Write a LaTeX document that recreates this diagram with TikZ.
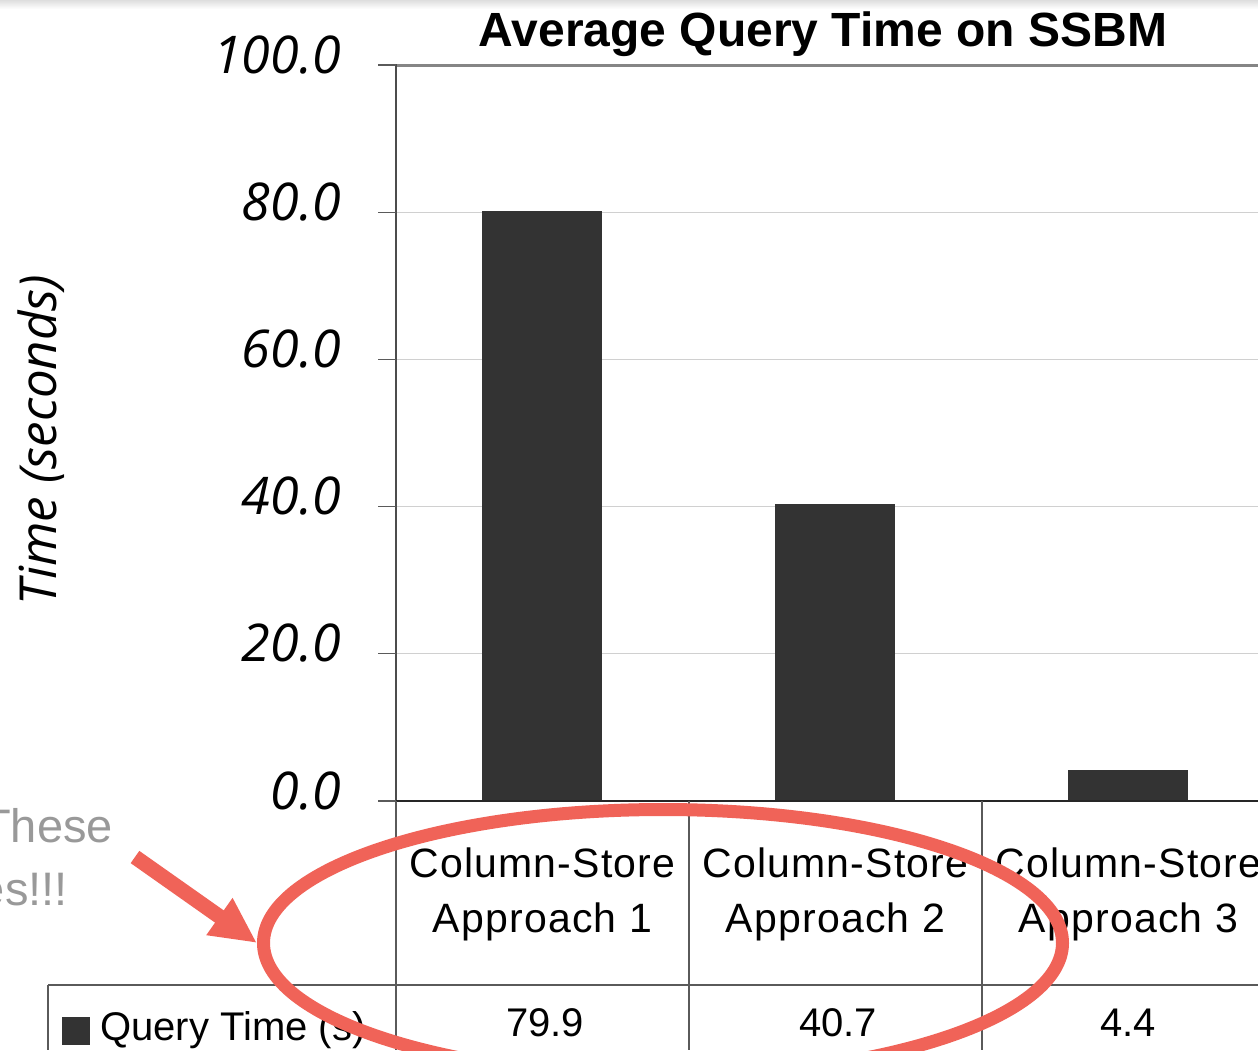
\documentclass[tikz,border=0pt]{standalone}
\usepackage{fontspec}
\setmainfont{Liberation Sans}
\newfontfamily\axisfont{Open Sans}
\newfontfamily\catfont{Liberation Sans}[LetterSpace=3]
\usetikzlibrary{shapes.geometric,arrows.meta}

\definecolor{barfill}{HTML}{333333}
\definecolor{markred}{HTML}{F06358}
\definecolor{softgray}{HTML}{999999}
\definecolor{gridgray}{HTML}{D0D0D0}
\definecolor{rulegray}{HTML}{5A5A5A}

\tikzset{
  ticklabel/.style={anchor=base east, inner sep=0pt, font=\axisfont\itshape\fontsize{52}{60}\selectfont},
  catlabel/.style={anchor=base, inner sep=0pt, font=\catfont\fontsize{41}{48}\selectfont},
  vallabel/.style={anchor=base, inner sep=0pt, font=\fontsize{40}{48}\selectfont},
  bar/.style={fill=barfill},
  gridline/.style={draw=gridgray, line width=1pt},
  tablerule/.style={draw=rulegray, line width=1.3pt},
  tickmark/.style={draw=rulegray, line width=1.3pt},
  notetext/.style={anchor=base east, inner sep=0pt, text=softgray, font=\fontsize{47}{56}\selectfont},
  highlight/.style={draw=markred, line width=13pt, ellipse, inner sep=0pt, minimum width=799pt, minimum height=267pt},
  pointer/.style={draw=markred, line width=15pt, -{Triangle[length=46pt, width=42pt]}}
}

\begin{document}
\begin{tikzpicture}[x=1pt, y=-1pt]
  \useasboundingbox (0,0) rectangle (1258,1050);
  \clip (0,0) rectangle (1258,1050);
  \fill[white] (0,0) rectangle (1258,1050);
  % soft shadow along the top edge
  \shade[top color=black!13, bottom color=white] (0,0) rectangle (1258,9);

  % title
  \node[anchor=base, inner sep=0pt, font=\bfseries\fontsize{48}{56}\selectfont] (title) at (823,46) {Average Query Time on SSBM};

  % horizontal grid lines
  \foreach \k in {1,...,4} {
    \draw[gridline] (396,{801-147.2*\k}) -- (1258,{801-147.2*\k});
  }

  % bars
  \fill[bar] (482,211) rectangle (602,801);
  \fill[bar] (775,504) rectangle (895,801);
  \fill[bar] (1068,770) rectangle (1188,801);

  % frame of the plot area
  \draw[draw=black!48, line width=3pt] (396,65) -- (1258,65);
  \draw[draw=black!70, line width=2pt] (396,64) -- (396,801);
  \draw[draw=black!85, line width=2.5pt] (378,801) -- (1258,801);

  % y ticks and labels
  \foreach \v [count=\i from 0] in {0.0,20.0,40.0,60.0,80.0,100.0} {
    \draw[tickmark] (378,{801-147.2*\i}) -- (396,{801-147.2*\i});
    \node[ticklabel] (tick\i) at (341,{809-147.2*\i}) {\v};
  }

  % y axis title
  \node[anchor=base, rotate=90, inner sep=0pt, font=\axisfont\itshape\fontsize{51}{60}\selectfont] (ytitle) at (56,440) {Time (seconds)};

  % data table under the chart
  \draw[tablerule] (396,801) -- (396,1050);
  \draw[tablerule] (689,801) -- (689,1050);
  \draw[tablerule] (982,801) -- (982,1050);
  \draw[tablerule] (48,985) -- (1258,985);
  \draw[tablerule] (48,985) -- (48,1050);

  \foreach \c/\n in {542.5/1, 835.5/2, 1128.5/3} {
    \node[catlabel] (cs\n) at (\c,877) {Column-Store};
    \node[catlabel] (ap\n) at (\c,932) {Approach \n};
  }
  \node[vallabel] (v1) at (545,1036) {79.9};
  \node[vallabel] (v2) at (838,1036) {40.7};
  \node[vallabel] (v3) at (1128,1036) {4.4};

  \fill[barfill] (62,1017) rectangle (90,1045);
  \node[anchor=base west, inner sep=0pt, font=\fontsize{40}{48}\selectfont] (rowlabel) at (100,1040) {Query Time (s)};

  % side note
  \node[notetext] (noteA) at (113,842) {These};
  \node[notetext] (noteB) at (68,905) {es!!!};

  % highlight ring and pointer
  \node[highlight] (ring) at (663,943) {};
  \coordinate (tail) at (135,857);
  \draw[pointer] (tail) -- (ring.west);
\end{tikzpicture}
\end{document}
